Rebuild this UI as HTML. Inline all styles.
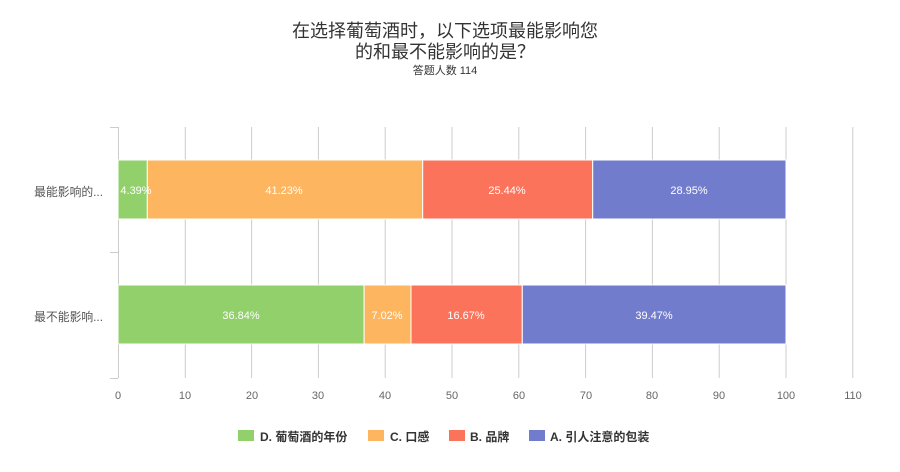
<!DOCTYPE html>
<html><head><meta charset="utf-8"><style>
body{margin:0;background:#fff}
text{font-family:"Liberation Sans","Noto Sans CJK SC",sans-serif}
</style></head><body>
<svg width="900" height="467" xmlns="http://www.w3.org/2000/svg">
<text x="445" y="37" font-size="18" fill="#333" text-anchor="middle">在选择葡萄酒时，以下选项最能影响您</text>
<text x="445" y="58" font-size="18" fill="#333" text-anchor="middle">的和最不能影响的是？</text>
<text x="445" y="74" font-size="11" fill="#333" text-anchor="middle">答题人数 114</text>
<g stroke="#ccc" stroke-width="1">
<line x1="118.5" y1="127" x2="118.5" y2="378"/>
<line x1="110" y1="127.5" x2="118" y2="127.5"/>
<line x1="110" y1="252.5" x2="118" y2="252.5"/>
<line x1="110" y1="378.5" x2="118" y2="378.5"/>
<line x1="185.3" y1="127" x2="185.3" y2="378"/>
<line x1="251.6" y1="127" x2="251.6" y2="378"/>
<line x1="318.4" y1="127" x2="318.4" y2="378"/>
<line x1="385.2" y1="127" x2="385.2" y2="378"/>
<line x1="452" y1="127" x2="452" y2="378"/>
<line x1="518.8" y1="127" x2="518.8" y2="378"/>
<line x1="585.6" y1="127" x2="585.6" y2="378"/>
<line x1="652.4" y1="127" x2="652.4" y2="378"/>
<line x1="719.2" y1="127" x2="719.2" y2="378"/>
<line x1="786" y1="127" x2="786" y2="378"/>
<line x1="852.8" y1="127" x2="852.8" y2="378"/>
</g>
<g font-size="11" fill="#666" text-anchor="middle">
<text x="118" y="399">0</text><text x="185" y="399">10</text><text x="252" y="399">20</text><text x="318" y="399">30</text><text x="385" y="399">40</text><text x="452" y="399">50</text><text x="519" y="399">60</text><text x="586" y="399">70</text><text x="652" y="399">80</text><text x="719" y="399">90</text><text x="786" y="399">100</text><text x="853" y="399">110</text>
</g>
<g font-size="11.8" fill="#555" text-anchor="end">
<text x="103" y="196">最能影响的...</text>
<text x="103" y="321">最不能影响...</text>
</g>
<g stroke="#fff" stroke-width="1">
<rect x="118" y="160" width="29.3" height="59" fill="#91d06b"/>
<rect x="147.3" y="160" width="275.4" height="59" fill="#fdb55f"/>
<rect x="422.7" y="160" width="170" height="59" fill="#fb735b"/>
<rect x="592.7" y="160" width="193.3" height="59" fill="#727ccc"/>
<rect x="118" y="285" width="246.1" height="59" fill="#91d06b"/>
<rect x="364.1" y="285" width="46.9" height="59" fill="#fdb55f"/>
<rect x="411" y="285" width="111.3" height="59" fill="#fb735b"/>
<rect x="522.3" y="285" width="263.7" height="59" fill="#727ccc"/>
</g>
<g font-size="11" fill="#fff" text-anchor="middle">
<text x="136" y="194">4.39%</text><text x="284" y="194">41.23%</text><text x="507" y="194">25.44%</text><text x="689" y="194">28.95%</text>
<text x="241" y="319">36.84%</text><text x="387" y="319">7.02%</text><text x="466" y="319">16.67%</text><text x="654" y="319">39.47%</text>
</g>
<rect x="238" y="430" width="16" height="11" fill="#91d06b"/>
<rect x="368" y="430" width="16" height="11" fill="#fdb55f"/>
<rect x="449" y="430" width="16" height="11" fill="#fb735b"/>
<rect x="529" y="430" width="16" height="11" fill="#727ccc"/>
<g font-size="12" font-weight="bold" fill="#333">
<text x="260" y="441">D. 葡萄酒的年份</text>
<text x="390" y="441">C. 口感</text>
<text x="470" y="441">B. 品牌</text>
<text x="550" y="441">A. 引人注意的包装</text>
</g>
</svg>
</body></html>
